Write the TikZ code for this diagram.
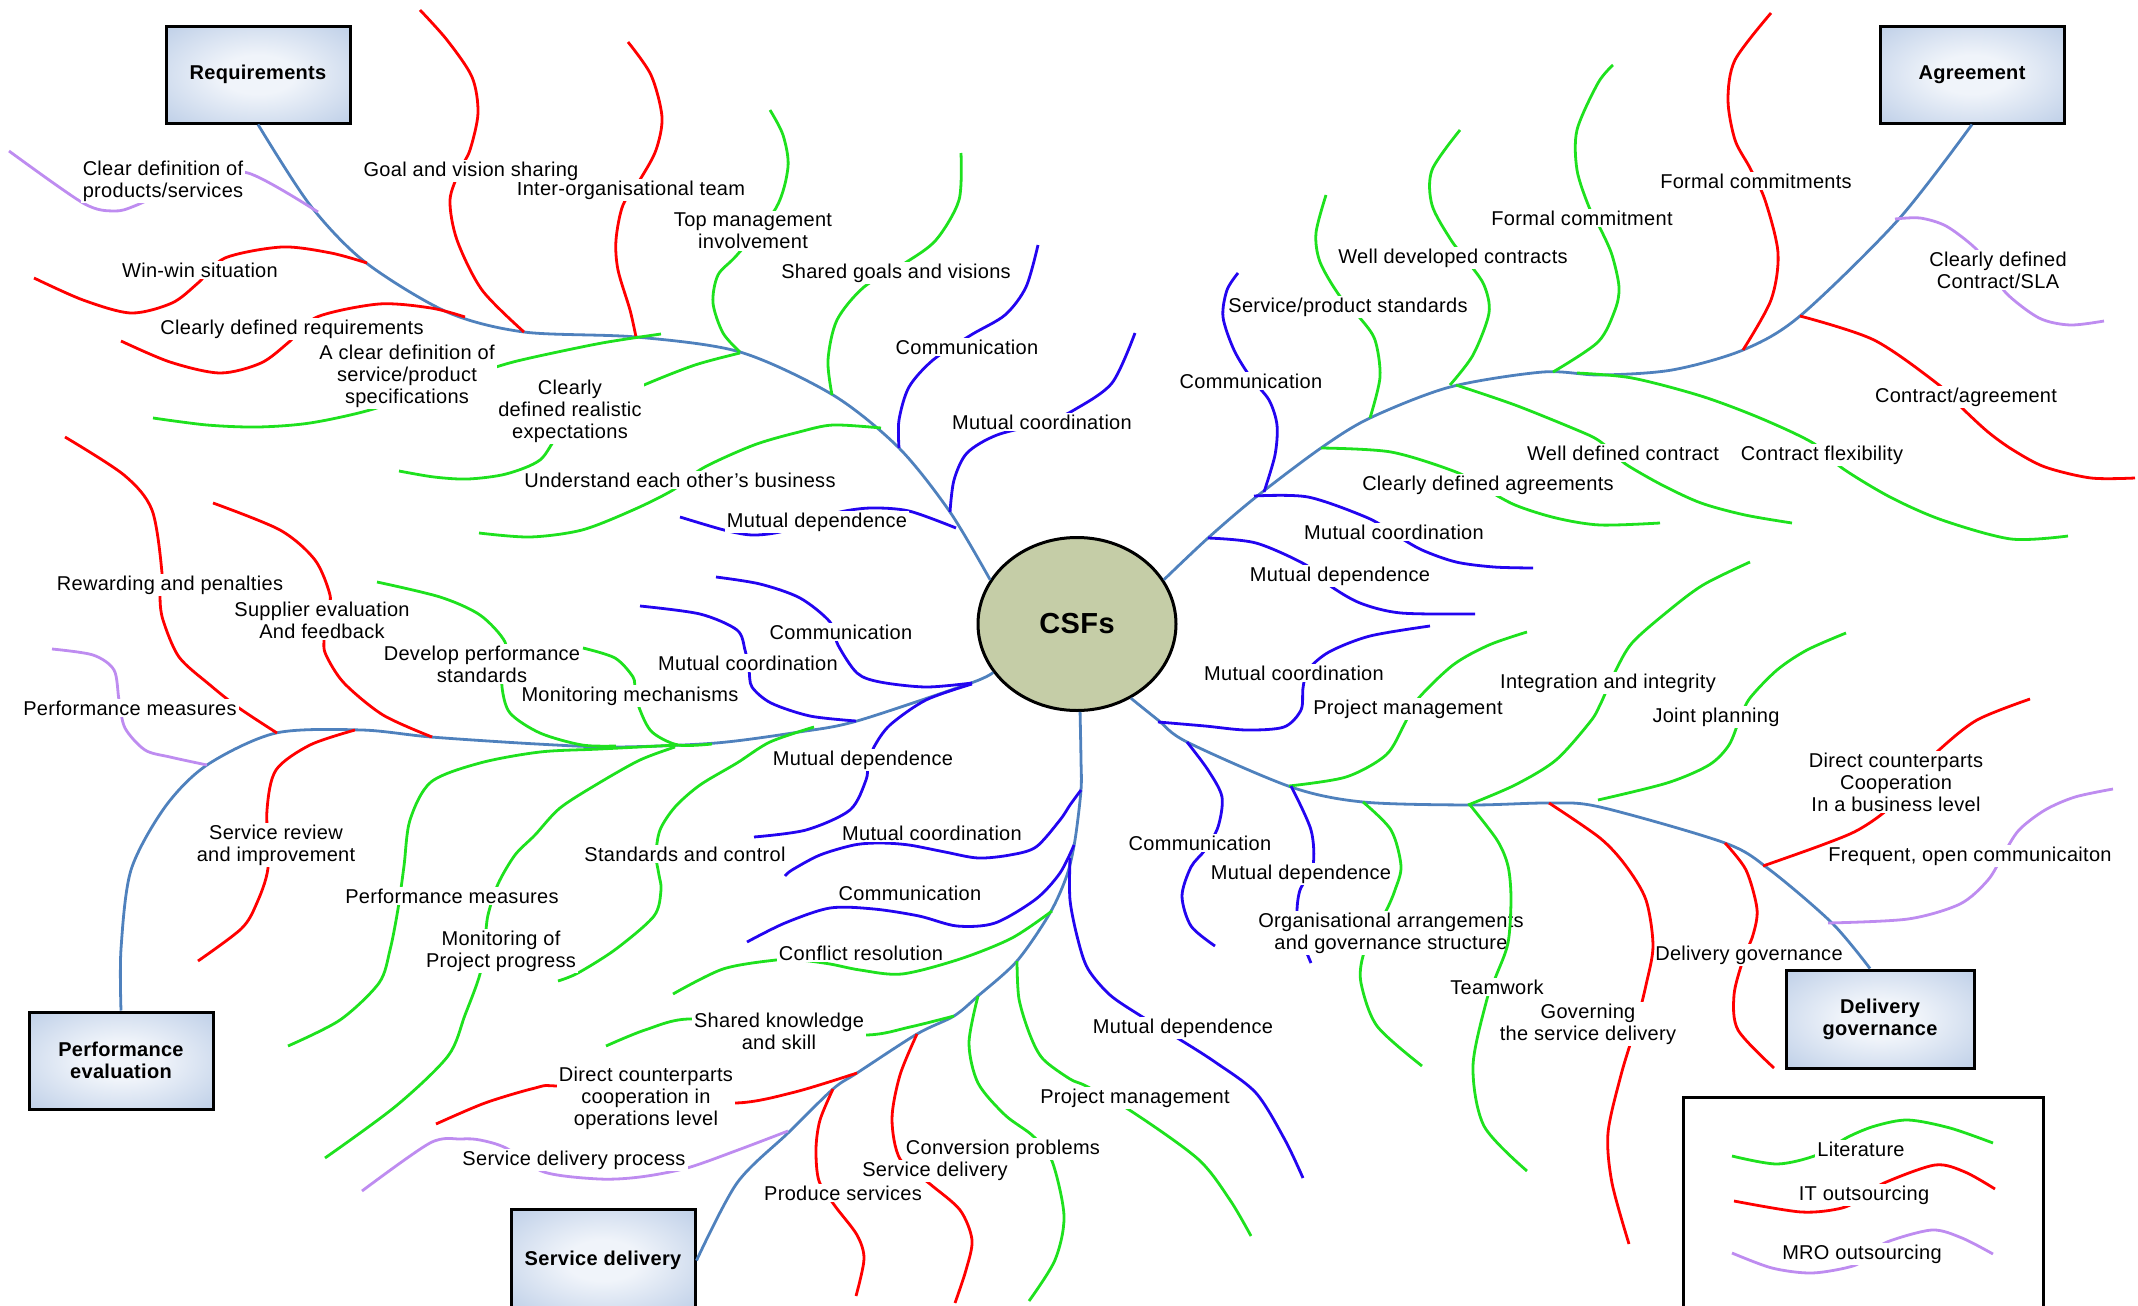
\documentclass[tikz,border=0pt]{standalone}
\usepackage{fontspec}
\setmainfont{Liberation Sans}[LetterSpace=1.5]
\usetikzlibrary{shapes.geometric}
\definecolor{trunkblue}{RGB}{79,129,189}
\definecolor{leafgreen}{RGB}{30,225,30}
\definecolor{leafred}{RGB}{255,0,0}
\definecolor{leafblue}{RGB}{35,5,240}
\definecolor{leafpurple}{RGB}{190,140,240}
\definecolor{hubfill}{RGB}{197,205,167}
\definecolor{boxin}{RGB}{240,244,250}
\definecolor{boxout}{RGB}{178,198,227}
\pgfdeclareradialshading{boxglow}{\pgfpoint{0bp}{0bp}}{color(0bp)=(boxin); color(10bp)=(boxin); color(42bp)=(boxout); color(50bp)=(boxout)}
\tikzset{
  trunk/.style={draw=trunkblue, line width=1.4pt},
  gleaf/.style={draw=leafgreen, line width=1.4pt},
  rleaf/.style={draw=leafred, line width=1.4pt},
  bleaf/.style={draw=leafblue, line width=1.4pt},
  pleaf/.style={draw=leafpurple, line width=1.4pt},
  lbl/.style={fill=white, inner sep=1pt, align=center, font=\fontsize{10pt}{11pt}\selectfont},
  topic/.style={draw, line width=1.5pt, shading=boxglow, minimum width=92pt, minimum height=48.5pt,
    align=center, inner sep=2pt, font=\fontsize{10pt}{11pt}\selectfont\bfseries},
  hub/.style={ellipse, draw, line width=1.5pt, fill=hubfill, minimum width=99pt, minimum height=86.5pt,
    inner sep=0pt, font=\fontsize{14.5pt}{16pt}\selectfont\bfseries},
}
\begin{document}
\begin{tikzpicture}[x=0.5pt,y=-0.5pt]
\useasboundingbox (0,0) rectangle (2138,1306);

% central topic and the five category boxes
\node[hub] (csf) at (1077,624) {CSFs};
\node[topic] (req) at (258,74.5) {Requirements};
\node[topic] (agr) at (1972,74.5) {Agreement};
\node[topic] (perf) at (121,1060.5) {Performance\\evaluation};
\node[topic, minimum height=51pt] (sd) at (603,1260.5) {Service delivery};
\node[topic, minimum width=94pt, minimum height=49pt] (dg) at (1880,1019) {Delivery\\governance};

% main branches
\draw[trunk] plot[smooth] coordinates {(csf.153) (950,512) (899,448) (833,395) (740,352) (636,337) (524,332) (447,312) (365,262) (310,205) (req.south)};
\draw[trunk] plot[smooth] coordinates {(csf.27) (1208,538) (1256,497) (1321,448) (1370,418) (1450,387) (1543,372) (1600,375) (1672,370) (1743,350) (1800,316) (1898,220) (agr.south)};
\draw[trunk] plot[smooth] coordinates {(csf.210) (971,683) (857,721) (799,732) (716,743) (616,747) (537,744) (431,737) (362,730) (276,733) (207,765) (165,807) (131,870) (121,949) (perf.north)};
\draw[trunk] plot[smooth] coordinates {(csf.272) (1081,760) (1081,790) (1075,840) (1067,875) (1050,913) (1017,961) (978,996) (954,1016) (917,1034) (857,1073) (833,1089) (788,1133) (737,1183) (sd.east)};
\draw[trunk] plot[smooth] coordinates {(csf.306) (1158,720) (1187,742) (1291,787) (1363,802) (1470,805) (1549,803) (1600,807) (1725,843) (1770,870) (1832,923) ([xshift=-5pt]dg.north)};

% ---- Requirements ----
\draw[pleaf] plot[smooth] coordinates {(318,212) (248,173) (196,178) (137,205) (114,211) (83,203) (9,151)};
\node[lbl] (lcdp) at (163,181) {Clear definition of\\products/services};
\draw[rleaf] plot[smooth] coordinates {(524,332) (482,290) (457,240) (450,200) (460,170) (470,150) (478,113) (472,77) (447,40) (420,10)};
\draw[rleaf] plot[smooth] coordinates {(636,337) (630,310) (618,270) (616,240) (623,205) (641,178) (656,150) (662,117) (651,75) (628,42)};
\node[lbl] (linter) at (631,190) {Inter-organisational team};
\node[lbl] (lgoal) at (471,171) {Goal and vision sharing};
\draw[rleaf] plot[smooth] coordinates {(367,263) (331,253) (282,247) (225,258) (198,283) (172,303) (131,313) (83,300) (34,278)};
\node[lbl] (lwin) at (200,270) {Win-win situation};
\draw[rleaf] plot[smooth] coordinates {(465,317) (431,308) (379,304) (317,317) (289,342) (261,363) (220,373) (170,362) (121,341)};
\node[lbl] (lcdr) at (292,329) {Clearly defined requirements};
\draw[gleaf] plot[smooth] coordinates {(661,334) (602,343) (530,358) (496,367) (434,388) (370,410) (310,423) (258,427) (207,425) (153,418)};
\node[lbl] (lacd) at (407,376) {A clear definition of\\service/product\\specifications};
\draw[gleaf] plot[smooth] coordinates {(740,353) (695,365) (644,385) (602,405) (561,432) (540,460) (506,474) (468,479) (434,477) (399,471)};
\node[lbl] (lcdre) at (570,411) {Clearly\\defined realistic\\expectations};
\draw[gleaf] plot[smooth] coordinates {(740,352) (723,333) (713,303) (718,275) (737,255) (776,208) (788,167) (783,135) (770,110)};
\node[lbl] (ltop) at (753,231) {Top management\\involvement};
\draw[gleaf] plot[smooth] coordinates {(832,395) (828,360) (837,320) (864,287) (905,263) (936,240) (959,200) (961,153)};
\node[lbl] (lshared) at (896,273) {Shared goals and visions};
\draw[bleaf] plot[smooth] coordinates {(899,448) (899,420) (909,387) (933,360) (971,335) (1005,315) (1026,287) (1038,245)};
\node[lbl] (lcomm1) at (967,347) {Communication};
\draw[bleaf] plot[smooth] coordinates {(950,512) (954,480) (967,453) (997,435) (1047,422) (1074,410) (1112,383) (1135,333)};
\node[lbl] (lmc1) at (1042,422) {Mutual coordination};
\draw[gleaf] plot[smooth] coordinates {(881,428) (833,425) (799,432) (754,445) (703,468) (673,490) (633,510) (582,530) (530,537) (479,533)};
\node[lbl] (luecb) at (680,480) {Understand each other’s business};
\draw[bleaf] plot[smooth] coordinates {(956,528) (909,511) (871,508) (840,512) (809,522) (780,532) (752,535) (724,530) (680,517)};
\node[lbl] (lmd1) at (817,522) {Mutual dependence};

% ---- Agreement ----
\draw[rleaf] plot[smooth] coordinates {(1743,350) (1771,300) (1778,253) (1765,200) (1750,168) (1735,140) (1728,100) (1735,60) (1771,13)};
\node[lbl] (lfcs) at (1756,181) {Formal commitments};
\draw[rleaf] plot[smooth] coordinates {(1800,316) (1874,340) (1939,385) (1962,408) (1988,432) (2013,450) (2045,467) (2091,478) (2135,478)};
\node[lbl] (lcc) at (1966,397) {Contract/agreement};
\draw[pleaf] plot[smooth] coordinates {(1895,219) (1920,218) (1946,226) (1974,247) (1993,270) (2006,293) (2039,318) (2070,325) (2104,321)};
\node[lbl] (lsla) at (1998,270) {Clearly defined\\Contract/SLA};
\draw[gleaf] plot[smooth] coordinates {(1553,372) (1598,342) (1615,310) (1619,287) (1612,255) (1601,230) (1589,207) (1577,170) (1577,130) (1598,83) (1613,65)};
\node[lbl] (lfc) at (1582,218) {Formal commitment};
\draw[gleaf] plot[smooth] coordinates {(1450,385) (1473,355) (1489,313) (1484,285) (1468,262) (1451,240) (1432,205) (1432,170) (1460,130)};
\node[lbl] (lwdcs) at (1453,258) {Well developed contracts};
\draw[gleaf] plot[smooth] coordinates {(1370,418) (1380,377) (1375,340) (1360,318) (1339,295) (1320,262) (1316,233) (1326,195)};
\node[lbl] (lsps) at (1348,307) {Service/product standards};
\draw[bleaf] plot[smooth] coordinates {(1264,492) (1275,455) (1277,425) (1269,400) (1251,378) (1234,350) (1223,317) (1227,290) (1238,273)};
\node[lbl] (lcomm2) at (1251,381) {Communication};
\draw[gleaf] plot[smooth] coordinates {(1456,385) (1515,405) (1577,430) (1598,440) (1616,455) (1627,465) (1662,485) (1701,503) (1745,515) (1792,523)};
\node[lbl] (lwdc) at (1623,453) {Well defined contract};
\draw[gleaf] plot[smooth] coordinates {(1577,373) (1632,378) (1701,396) (1760,418) (1813,443) (1842,468) (1890,497) (1942,520) (2011,539) (2068,536)};
\node[lbl] (lcf) at (1822,455) {Contract flexibility};
\draw[gleaf] plot[smooth] coordinates {(1321,448) (1391,452) (1456,472) (1484,488) (1515,505) (1556,518) (1600,525) (1660,523)};
\node[lbl] (lcda) at (1488,485) {Clearly defined agreements};
\draw[bleaf] plot[smooth] coordinates {(1254,496) (1308,497) (1368,518) (1396,535) (1422,550) (1456,562) (1494,567) (1533,568)};
\node[lbl] (lmc2) at (1394,532) {Mutual coordination};
\draw[bleaf] plot[smooth] coordinates {(1208,538) (1256,543) (1306,565) (1329,585) (1360,603) (1401,613) (1475,614)};
\node[lbl] (lmd2) at (1340,576) {Mutual dependence};

% ---- Delivery governance ----
\draw[bleaf] plot[smooth] coordinates {(1158,722) (1205,726) (1246,730) (1284,727) (1301,710) (1303,688) (1308,670) (1329,652) (1370,636) (1430,626)};
\node[lbl] (lmc3) at (1294,673) {Mutual coordination};
\draw[gleaf] plot[smooth] coordinates {(1289,786) (1346,777) (1386,755) (1404,725) (1417,700) (1453,665) (1489,645) (1527,632)};
\node[lbl] (lpm1) at (1408,709) {Project management};
\draw[gleaf] plot[smooth] coordinates {(1468,805) (1515,785) (1556,760) (1590,722) (1600,705) (1615,672) (1632,643) (1667,612) (1703,585) (1750,562)};
\node[lbl] (lint) at (1608,683) {Integration and integrity};
\draw[gleaf] plot[smooth] coordinates {(1598,800) (1667,783) (1709,765) (1729,745) (1740,718) (1750,698) (1777,670) (1807,650) (1846,633)};
\node[lbl] (ljp) at (1716,717) {Joint planning};
\draw[rleaf] plot[smooth] coordinates {(1763,866) (1822,845) (1858,830) (1889,808) (1915,775) (1939,750) (1977,720) (2030,699)};
\node[lbl] (ldcb) at (1896,782) {Direct counterparts\\Cooperation\\In a business level};
\draw[pleaf] plot[smooth] coordinates {(1828,923) (1908,919) (1960,904) (1988,880) (2003,855) (2019,830) (2045,810) (2075,797) (2113,789)};
\node[lbl] (lfoc) at (1970,856) {Frequent, open communicaiton};
\draw[rleaf] plot[smooth] coordinates {(1725,843) (1746,870) (1757,909) (1753,935) (1743,960) (1734,995) (1738,1030) (1774,1068)};
\node[lbl] (ldg) at (1749,955) {Delivery governance};
\draw[rleaf] plot[smooth] coordinates {(1549,803) (1600,838) (1626,866) (1646,900) (1653,946) (1646,985) (1636,1025) (1621,1075) (1608,1133) (1612,1183) (1629,1244)};
\node[lbl] (lgov) at (1588,1024) {Governing\\the service delivery};
\draw[bleaf] plot[smooth] coordinates {(1187,742) (1208,770) (1222,797) (1218,827) (1205,850) (1191,867) (1182,896) (1191,926) (1215,946)};
\node[lbl] (lcomm3) at (1200,843) {Communication};
\draw[bleaf] plot[smooth] coordinates {(1291,786) (1311,830) (1313,866) (1300,890) (1297,915) (1302,940) (1311,963)};
\node[lbl] (lmd3) at (1301,874) {Mutual dependence};
\draw[gleaf] plot[smooth] coordinates {(1363,802) (1391,830) (1401,866) (1395,890) (1387,909) (1375,930) (1363,956) (1361,983) (1377,1026) (1422,1066)};
\node[lbl] (lorg) at (1391,933) {Organisational arrangements\\and governance structure};
\draw[gleaf] plot[smooth] coordinates {(1470,805) (1497,840) (1508,866) (1511,899) (1508,943) (1496,976) (1487,999) (1473,1066) (1484,1126) (1527,1171)};
\node[lbl] (ltw) at (1497,987) {Teamwork};

% ---- Service delivery ----
\draw[bleaf] plot[smooth] coordinates {(1081,790) (1070,805) (1060,820) (1036,847) (1010,855) (978,858) (945,852) (909,845) (880,843) (854,845) (820,855) (792,870) (785,876)};
\node[lbl] (lmc4) at (932,833) {Mutual coordination};
\draw[bleaf] plot[smooth] coordinates {(1074,845) (1060,873) (1036,899) (995,923) (957,926) (919,916) (874,909) (830,908) (785,923) (747,942)};
\node[lbl, inner sep=0.5pt] (lcomm4) at (910,893) {Communication};
\draw[gleaf] plot[smooth] coordinates {(1052,911) (1012,938) (960,959) (902,974) (860,970) (830,964) (800,960) (776,960) (723,969) (673,994)};
\node[lbl] (lconf) at (861,953) {Conflict resolution};
\draw[gleaf] plot[smooth] coordinates {(954,1016) (910,1027) (866,1035) (775,1030) (690,1019) (645,1030) (606,1046)};
\node[lbl] (lskn) at (779,1031) {Shared knowledge\\and skill};
\draw[rleaf] plot[smooth] coordinates {(857,1073) (795,1092) (735,1103) (645,1095) (556,1086) (535,1088) (485,1103) (436,1124)};
\node[lbl] (ldco) at (646,1098) {Direct counterparts\\cooperation in\\operations level};
\draw[pleaf] plot[smooth] coordinates {(788,1131) (738,1150) (687,1168) (640,1177) (599,1179) (544,1172) (506,1148) (480,1140) (461,1139) (430,1143) (362,1191)};
\node[lbl] (lsdp) at (574,1160) {Service delivery process};
\draw[rleaf] plot[smooth] coordinates {(833,1089) (820,1120) (816,1149) (819,1181) (835,1206) (857,1235) (864,1259) (856,1296)};
\node[lbl] (lprod) at (843,1193) {Produce services};
\draw[rleaf] plot[smooth] coordinates {(917,1034) (900,1075) (892,1119) (900,1159) (930,1184) (960,1210) (972,1240) (966,1270) (955,1303)};
\node[lbl] (lsd) at (935,1171) {Service delivery};
\draw[gleaf] plot[smooth] coordinates {(978,996) (969,1043) (978,1083) (1005,1115) (1033,1136) (1052,1161) (1064,1216) (1055,1260) (1029,1301)};
\node[lbl] (lconv) at (1003,1149) {Conversion problems};
\draw[gleaf] plot[smooth] coordinates {(1017,961) (1019,999) (1030,1035) (1043,1059) (1070,1079) (1086,1086) (1131,1111) (1198,1159) (1230,1200) (1251,1236)};
\node[lbl] (lpm2) at (1135,1098) {Project management};
\draw[bleaf] plot[smooth] coordinates {(1070,858) (1070,900) (1078,940) (1088,969) (1110,995) (1141,1016) (1179,1039) (1215,1062) (1256,1093) (1285,1140) (1303,1178)};
\node[lbl] (lmd4) at (1183,1028) {Mutual dependence};

% ---- Performance evaluation ----
\draw[bleaf] plot[smooth] coordinates {(972,683) (926,687) (880,682) (857,673) (838,645) (830,622) (800,598) (760,584) (716,577)};
\node[lbl] (lcomm5) at (841,632) {Communication};
\draw[bleaf] plot[smooth] coordinates {(856,721) (810,716) (771,703) (752,687) (749,670) (745,650) (737,630) (700,614) (640,606)};
\node[lbl] (lmc5) at (748,663) {Mutual coordination};
\draw[bleaf] plot[smooth] coordinates {(972,684) (926,700) (890,725) (874,747) (868,765) (866,780) (850,810) (806,830) (754,837)};
\node[lbl] (lmd5) at (863,760) {Mutual dependence};
\draw[gleaf] plot[smooth] coordinates {(712,744) (678,745) (652,732) (640,710) (635,690) (633,677) (615,658) (583,648)};
\node[lbl] (lmm) at (630,696) {Monitoring mechanisms};
\draw[gleaf] plot[smooth] coordinates {(616,746) (582,745) (540,733) (510,713) (502,687) (504,665) (505,642) (480,615) (440,597) (377,582)};
\node[lbl] (ldps) at (482,664) {Develop performance\\standards};
\draw[rleaf] plot[smooth] coordinates {(277,733) (239,708) (210,685) (179,657) (163,620) (160,597) (162,573) (152,510) (124,475) (65,437)};
\node[lbl] (lrp) at (170,585) {Rewarding and penalties};
\draw[rleaf] plot[smooth] coordinates {(432,737) (383,715) (344,683) (326,655) (324,640) (327,610) (330,595) (315,560) (280,530) (213,503)};
\node[lbl] (lsef) at (322,620) {Supplier evaluation\\And feedback};
\draw[pleaf] plot[smooth] coordinates {(207,765) (170,757) (145,750) (125,728) (119,700) (114,670) (93,655) (52,649)};
\node[lbl] (lpmp) at (130,708) {Performance measures};
\draw[rleaf] plot[smooth] coordinates {(355,730) (310,745) (276,770) (267,810) (268,868) (256,905) (241,929) (198,961)};
\node[lbl] (lsri) at (276,845) {Service review\\and improvement};
\draw[gleaf] plot[smooth] coordinates {(814,727) (770,742) (737,763) (700,785) (675,807) (660,830) (656,855) (659,875) (661,890) (654,916) (616,949) (578,973) (558,981)};
\node[lbl] (lsc) at (685,854) {Standards and control};
\draw[gleaf] plot[smooth] coordinates {(675,747) (640,760) (599,783) (560,808) (535,835) (515,855) (498,884) (488,915) (485,940) (480,974) (465,1015) (448,1056) (396,1106) (325,1158)};
\node[lbl] (lmpp) at (501,951) {Monitoring of\\Project progress};
\draw[gleaf] plot[smooth] coordinates {(678,745) (600,749) (540,752) (480,763) (431,782) (410,820) (404,866) (398,909) (390,950) (379,983) (340,1020) (288,1046)};
\node[lbl] (lpmg) at (452,896) {Performance measures};

% ---- key ----
\node[draw, line width=1.5pt, minimum width=180pt, minimum height=107.5pt, inner sep=0pt] (key) at (1863.5,1204.5) {};
\draw[gleaf] plot[smooth] coordinates {(1732,1156) (1777,1164) (1817,1155) (1848,1137) (1875,1126) (1908,1120) (1950,1128) (1993,1143)};
\node[lbl] (klit) at (1861,1149) {Literature};
\draw[rleaf] plot[smooth] coordinates {(1734,1201) (1801,1212) (1842,1208) (1865,1196) (1884,1183) (1935,1165) (1965,1172) (1995,1189)};
\node[lbl] (kit) at (1864,1195) {IT outsourcing};
\draw[pleaf] plot[smooth] coordinates {(1732,1253) (1772,1268) (1812,1273) (1853,1266) (1870,1255) (1887,1242) (1932,1230) (1962,1238) (1993,1254)};
\node[lbl] (kmro) at (1862,1254) {MRO outsourcing};
\end{tikzpicture}
\end{document}
